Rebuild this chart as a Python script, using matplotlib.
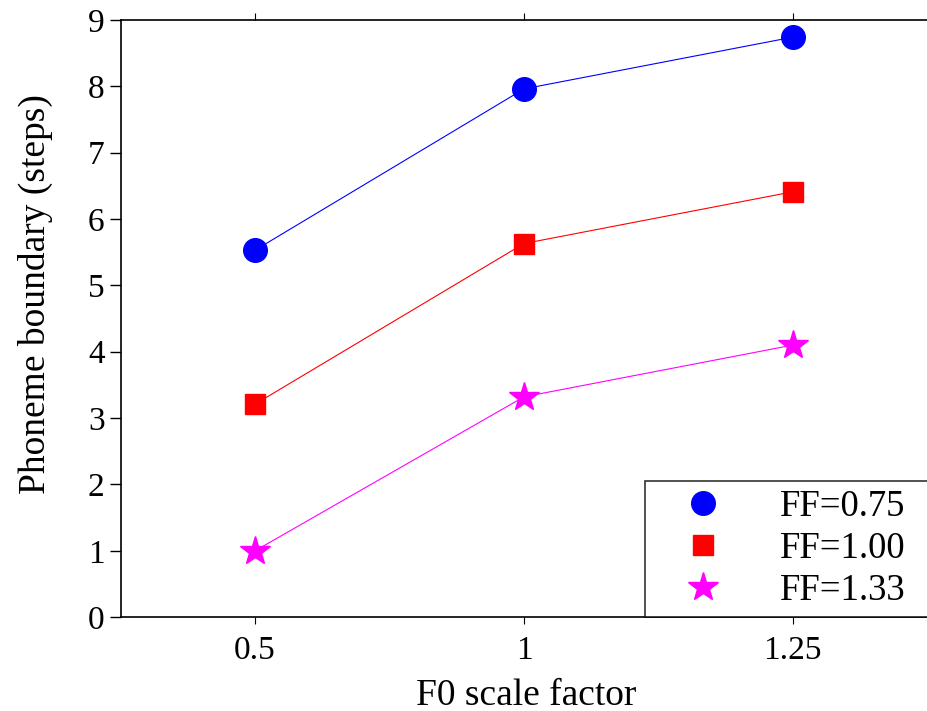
import numpy as np
import matplotlib.pyplot as plt
from matplotlib.lines import Line2D

plt.rcParams['font.family'] = ['Liberation Serif', 'DejaVu Serif']

# data
scale_labels = ['0.5', '1', '1.25']
ff_075 = [5.53, 7.96, 8.74]
ff_100 = [3.21, 5.63, 6.41]
ff_133 = [1.0, 3.32, 4.10]

series = [
    (ff_075, 'blue', 'o', 17, 'FF=0.75'),
    (ff_100, 'red', 's', 14, 'FF=1.00'),
    (ff_133, 'magenta', '*', 22, 'FF=1.33'),
]

fig = plt.figure(figsize=(9.28, 7.11), dpi=100)
ax = fig.add_axes([0.130, 0.132, 0.875, 0.840])

x = np.arange(1, len(scale_labels) + 1)
handles = []
for vals, col, mk, ms, lab in series:
    ax.plot(x, vals, color=col, lw=0.8, marker=mk, markersize=ms,
            markeredgecolor=col, markerfacecolor=col)
    handles.append(Line2D([], [], ls='none', marker=mk, markersize=ms,
                          color=col, label=lab))

ax.set_xlim(0.5, 3.52)
ax.set_ylim(0, 9)
ax.set_xticks(x)
ax.set_xticklabels(scale_labels)
ax.set_yticks(range(0, 10))
ax.tick_params(axis='both', labelsize=24, direction='out')
ax.tick_params(axis='y', length=8, width=1)
ax.tick_params(axis='x', length=5, width=0.8, top=True, pad=8)
for s in ax.spines.values():
    s.set_linewidth(1.2)
ax.spines['right'].set_visible(False)

ax.set_xlabel('F0 scale factor', fontsize=27, labelpad=9)
ax.set_ylabel('Phoneme boundary (steps)', fontsize=27, labelpad=25)
ax.yaxis.label.set_y(0.541)

# legend box runs off the right edge like in the original
leg = ax.legend(handles=handles, loc='lower left', mode='expand',
                bbox_to_anchor=(0.646, 0.0, 0.38, 0.3), fontsize=26.5,
                frameon=True, fancybox=False, borderaxespad=0,
                handlelength=2.66, handletextpad=0.76, borderpad=0.25,
                labelspacing=0.2)
leg.get_frame().set_edgecolor('black')
leg.get_frame().set_linewidth(1.2)

fig.savefig('out.png', dpi=100)
